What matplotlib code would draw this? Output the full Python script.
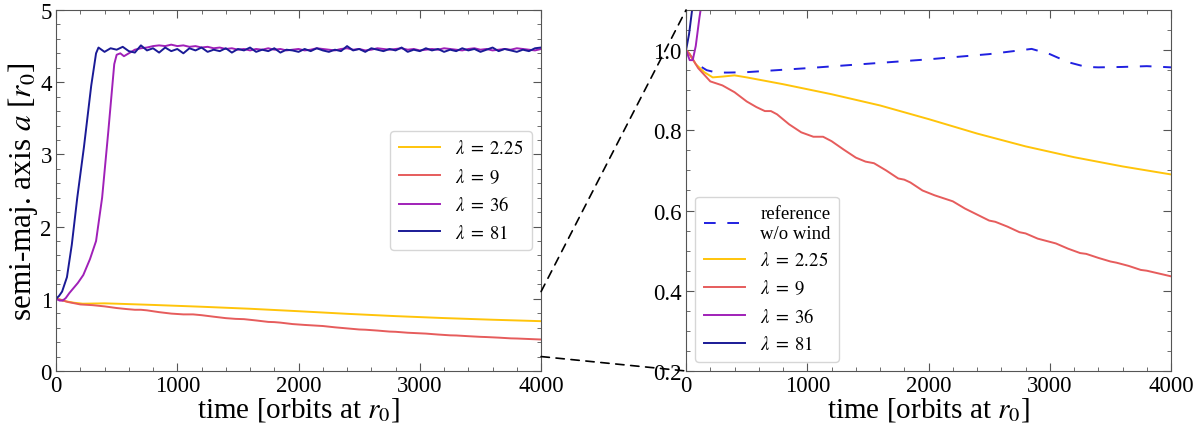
import matplotlib
matplotlib.use("Agg")
import matplotlib.pyplot as plt
from matplotlib.patches import ConnectionPatch
from matplotlib.ticker import MultipleLocator

plt.rcParams['font.family'] = ['Liberation Serif', 'DejaVu Serif']
plt.rcParams['mathtext.fontset'] = 'stix'

# reference run without wind
t_ref = [0, 40, 100, 170, 250, 350, 500, 1000, 1500, 2000, 2500, 2850,
         3000, 3150, 3300, 3400, 3600, 3800, 4000]
a_ref = [1.0, 0.985, 0.963, 0.95, 0.944, 0.944, 0.945, 0.955, 0.966, 0.977,
         0.99, 1.003, 0.99, 0.97, 0.958, 0.957, 0.958, 0.96, 0.957]

# lambda = 2.25
t_225 = [0, 30, 80, 150, 220, 300, 400, 500, 800, 1200, 1600, 2000, 2400,
         2800, 3200, 3600, 4000]
a_225 = [1.0, 0.99, 0.965, 0.945, 0.932, 0.934, 0.937, 0.932, 0.915, 0.89,
         0.862, 0.828, 0.792, 0.76, 0.733, 0.71, 0.69]

# lambda = 9
t_9 = [0, 30, 100, 200, 300, 400, 500, 580, 650, 700, 750, 850, 950, 1050,
       1130, 1200, 1300, 1400, 1480, 1550, 1650, 1750, 1800, 1850, 1950,
       2050, 2150, 2200, 2300, 2400, 2500, 2550, 2650, 2750, 2800, 2900,
       3000, 3050, 3150, 3250, 3300, 3400, 3500, 3550, 3650, 3750, 3800,
       3900, 4000]
a_9 = [1.0, 0.99, 0.955, 0.922, 0.912, 0.895, 0.872, 0.858, 0.848, 0.848,
       0.84, 0.815, 0.795, 0.784, 0.784, 0.773, 0.752, 0.732, 0.722, 0.718,
       0.70, 0.68, 0.677, 0.67, 0.65, 0.638, 0.628, 0.623, 0.605, 0.59,
       0.575, 0.572, 0.56, 0.546, 0.543, 0.53, 0.522, 0.518, 0.505, 0.494,
       0.492, 0.482, 0.473, 0.47, 0.462, 0.452, 0.45, 0.443, 0.436]

# lambda = 36
t_36 = [0, 30, 55, 80, 110, 140, 180, 225, 280, 330, 380, 430, 480, 500,
        530, 560, 600] + list(range(650, 4001, 50))
a_36 = [1.0, 0.975, 0.975, 1.01, 1.08, 1.14, 1.22, 1.33, 1.55, 1.8, 2.4,
        3.3, 4.25, 4.38, 4.40, 4.36, 4.40,
        4.45, 4.47, 4.48, 4.50, 4.51, 4.50, 4.52, 4.50, 4.51, 4.49, 4.50,
        4.48, 4.49, 4.47,
        4.48, 4.46, 4.47, 4.45, 4.46, 4.44, 4.46, 4.45, 4.47, 4.45, 4.46,
        4.44, 4.45, 4.46, 4.44, 4.45, 4.47, 4.46, 4.45, 4.44,
        4.46, 4.47, 4.45, 4.46, 4.44, 4.45, 4.47, 4.46, 4.45, 4.46, 4.47,
        4.45, 4.46, 4.44, 4.45, 4.46, 4.45, 4.47, 4.46, 4.45,
        4.44, 4.46, 4.47, 4.45, 4.46, 4.44, 4.45, 4.46, 4.45, 4.47, 4.46,
        4.45, 4.44, 4.46]

# lambda = 81
t_81 = [0, 25, 50, 90, 130, 175, 230, 290, 330] + list(range(350, 4001, 50))
a_81 = [1.0, 1.04, 1.1, 1.3, 1.75, 2.4, 3.1, 3.95, 4.4,
        4.48, 4.42, 4.47, 4.45, 4.49, 4.43, 4.41, 4.51, 4.44, 4.47, 4.41,
        4.48, 4.43, 4.46, 4.40, 4.47, 4.44, 4.48, 4.42, 4.45,
        4.43, 4.47, 4.41, 4.46, 4.44, 4.48, 4.42, 4.45, 4.43, 4.47, 4.41,
        4.45, 4.44, 4.42, 4.46, 4.43, 4.47, 4.44, 4.42, 4.45,
        4.43, 4.50, 4.44, 4.46, 4.42, 4.47, 4.45, 4.43, 4.46, 4.44, 4.48,
        4.42, 4.45, 4.43, 4.47, 4.44, 4.46, 4.42, 4.45, 4.43,
        4.47, 4.44, 4.46, 4.42, 4.45, 4.48, 4.43, 4.46, 4.44, 4.42, 4.45,
        4.43, 4.47, 4.48]

runs = [
    (t_225, a_225, r'$\lambda\;=\;2.25$', '#ffc40a'),
    (t_9, a_9, r'$\lambda\;=\;9$', '#e65c5c'),
    (t_36, a_36, r'$\lambda\;=\;36$', '#a020b8'),
    (t_81, a_81, r'$\lambda\;=\;81$', '#1a1a96'),
]

fig = plt.figure(figsize=(12, 4.31), dpi=100)
ax1 = fig.add_axes([0.0467, 0.1369, 0.4042, 0.8376])
ax2 = fig.add_axes([0.5717, 0.1369, 0.4042, 0.8376])

ax2.plot(t_ref, a_ref, color='#2020e0', lw=1.4, linestyle=(0, (6, 6)),
         label='reference\nw/o wind')
for t, a, lab, col in runs:
    ax1.plot(t, a, color=col, lw=1.4, label=lab)
    ax2.plot(t, a, color=col, lw=1.4, label=lab)

ax1.set_xlim(0, 4000)
ax1.set_ylim(0, 5)
ax2.set_xlim(0, 4000)
ax2.set_ylim(0.2, 1.1)

ax1.yaxis.set_major_locator(MultipleLocator(1))
ax1.yaxis.set_minor_locator(MultipleLocator(0.2))
ax2.yaxis.set_major_locator(MultipleLocator(0.2))
ax2.yaxis.set_minor_locator(MultipleLocator(0.05))
for ax in (ax1, ax2):
    ax.xaxis.set_major_locator(MultipleLocator(1000))
    ax.xaxis.set_minor_locator(MultipleLocator(200))
    ax.tick_params(which='both', direction='in', top=True, right=True,
                   labelsize=16.5, colors='#555555', labelcolor='black')
    ax.tick_params(which='major', length=6, pad=3)
    ax.tick_params(which='minor', length=3)
    for s in ax.spines.values():
        s.set_color('#555555')
    ax.set_xlabel(r'time [orbits at $r_0$]', fontsize=21, labelpad=-1)

ax1.set_ylabel(r'semi-maj. axis $a$ [$r_0$]', fontsize=22.5, labelpad=0)

leg_kw = dict(fontsize=13.5, handlelength=2.2, handletextpad=0.8,
              borderpad=0.45, labelspacing=0.5)
ax1.legend(loc='center right', **leg_kw)
leg2 = ax2.legend(loc='lower left', **leg_kw)
for txt in leg2.get_texts():
    txt.set_multialignment('left')

for y in (1.1, 0.2):
    con = ConnectionPatch(xyA=(4000, y), coordsA=ax1.transData,
                          xyB=(0, y), coordsB=ax2.transData,
                          color='black', lw=1.2, linestyle=(0, (5, 4)))
    fig.add_artist(con)

fig.savefig('out.png', dpi=100)
